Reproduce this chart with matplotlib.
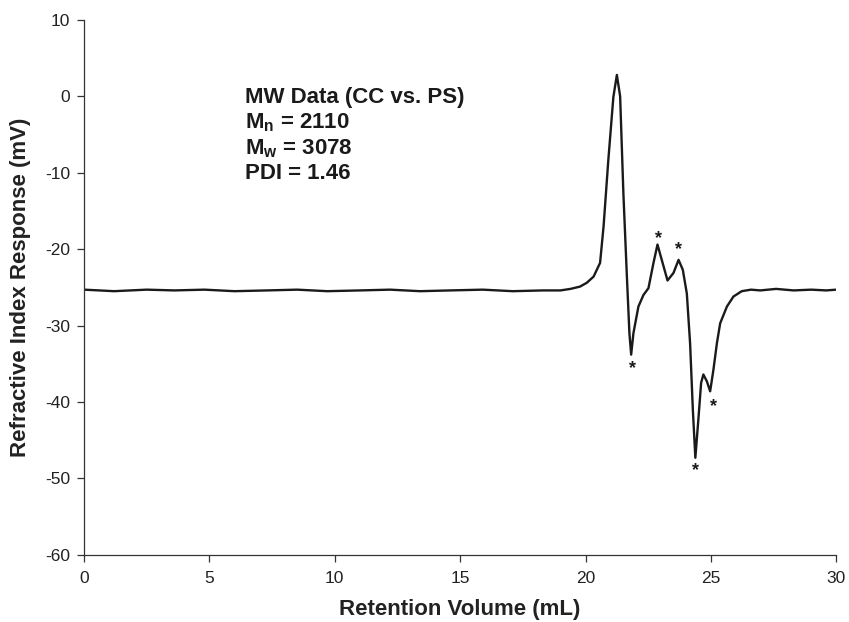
import matplotlib
matplotlib.use("Agg")
import matplotlib.pyplot as plt

# retention volume (mL) and RI response (mV)
volume = [0.0, 1.2, 2.5, 3.6, 4.8, 6.0, 7.3, 8.5, 9.7, 11.0, 12.2, 13.4, 14.6,
          15.9, 17.1, 18.3, 19.0, 19.4, 19.78, 20.05, 20.32, 20.58, 20.72,
          20.91, 21.11, 21.25, 21.38, 21.51, 21.65, 21.75, 21.82, 21.91,
          22.11, 22.31, 22.51, 22.71, 22.87, 23.04, 23.27, 23.51, 23.71,
          23.88, 24.04, 24.17, 24.28, 24.38, 24.50, 24.61, 24.70, 24.84,
          24.97, 25.10, 25.24, 25.37, 25.64, 25.90, 26.23, 26.6, 26.97,
          27.6, 28.3, 29.0, 29.6, 30.0]
response = [-25.3, -25.5, -25.3, -25.4, -25.3, -25.5, -25.4, -25.3, -25.5,
            -25.4, -25.3, -25.5, -25.4, -25.3, -25.5, -25.4, -25.4, -25.2,
            -24.9, -24.4, -23.6, -21.8, -17.0, -8.3, -0.1, 2.8, 0.0, -12.7,
            -23.6, -31.0, -33.8, -31.0, -27.5, -26.0, -25.1, -21.8, -19.4,
            -21.4, -24.1, -23.1, -21.4, -22.7, -25.8, -32.3, -41.0, -47.3,
            -42.3, -37.5, -36.4, -37.3, -38.6, -35.8, -32.3, -29.7, -27.5,
            -26.2, -25.5, -25.3, -25.4, -25.2, -25.4, -25.3, -25.4, -25.3]

# asterisk marks next to the minor peaks
star_x = [21.86, 22.9, 23.7, 24.4, 25.1]
star_y = [-35.6, -18.6, -20.1, -49.0, -40.6]

mw_lines = ["MW Data (CC vs. PS)", "M$_\\mathregular{n}$ = 2110",
            "M$_\\mathregular{w}$ = 3078", "PDI = 1.46"]

plt.rcParams['font.family'] = ['Liberation Sans', 'DejaVu Sans']
plt.rcParams['mathtext.fontset'] = 'custom'
plt.rcParams['mathtext.rm'] = 'Liberation Sans:bold'
plt.rcParams['axes.unicode_minus'] = False

fig = plt.figure(figsize=(8.49, 6.22), dpi=100)
ax = fig.add_axes([0.099, 0.108, 0.886, 0.860])

ax.plot(volume, response, color="#1a1a1a", lw=1.7)
for sx, sy in zip(star_x, star_y):
    ax.text(sx, sy, "*", ha="center", va="center", fontsize=13,
            fontweight="bold", color="#1a1a1a")

for i, line in enumerate(mw_lines):
    ax.text(6.4, -0.2 - i * 3.3, line, fontsize=16, fontweight="bold",
            color="#1a1a1a", va="center", ha="left")

ax.set_xlim(0, 30)
ax.set_ylim(-60, 10)
ax.set_xticks(range(0, 31, 5))
ax.set_yticks(range(-60, 11, 10))
ax.spines["top"].set_visible(False)
ax.spines["right"].set_visible(False)
for s in ("left", "bottom"):
    ax.spines[s].set_color("#333333")
    ax.spines[s].set_linewidth(0.9)
ax.tick_params(direction="out", length=5, width=0.9, color="#333333",
               labelsize=12.5, labelcolor="#222222")
ax.tick_params(axis="x", pad=7)
ax.tick_params(axis="y", pad=5)
ax.set_xlabel("Retention Volume (mL)", fontsize=16, fontweight="bold",
              color="#222222", labelpad=9)
ax.set_ylabel("Refractive Index Response (mV)", fontsize=16,
              fontweight="bold", color="#222222", labelpad=10)

fig.savefig("out.png", dpi=100)
